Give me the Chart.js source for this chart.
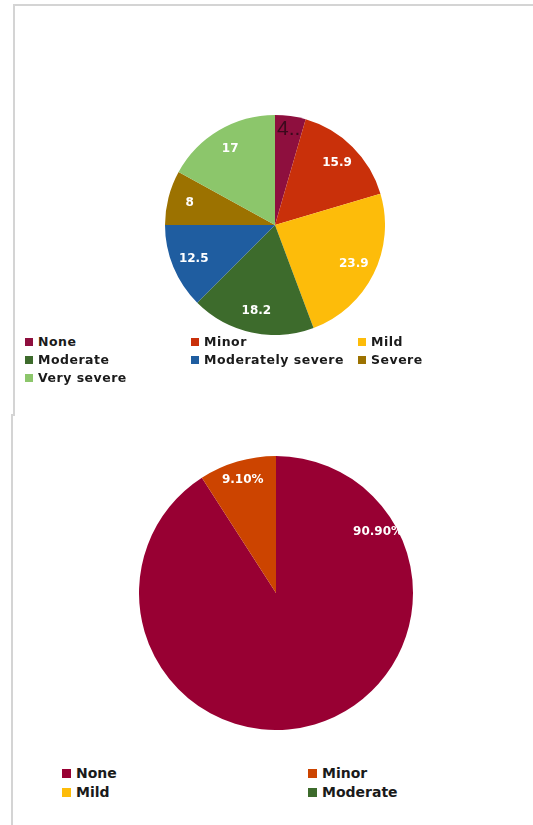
<!DOCTYPE html>
<html>
<head>
<meta charset="utf-8">
<script src="https://cdn.jsdelivr.net/npm/chart.js@4"></script>
<style>
    body { margin: 0; width: 533px; height: 825px; background: #fff; position: relative; overflow: hidden; font-family: "DejaVu Sans", Arial, sans-serif; }
    .marco1 { position: absolute; left: 13px; top: 4px; width: 530px; height: 410px; border-top: 2px solid #d4d4d4; border-left: 2px solid #d4d4d4; }
    .marco2 { position: absolute; left: 11px; top: 414px; width: 2px; height: 411px; background: #d4d4d4; }
    .lienzo { position: absolute; }
    .leyenda { position: absolute; font-weight: bold; color: #1a1a1a; }
    .item { position: absolute; white-space: nowrap; }
    .item span.cuadro { display: inline-block; vertical-align: middle; margin-right: 5px; position: relative; top: -1px; }
</style>
</head>
<body>
<div class="marco1"></div>
<div class="marco2"></div>
<div class="lienzo" style="left:165px; top:115px; width:220px; height:220px;"><canvas id="graficoSeveridad"></canvas></div>
<div class="leyenda" id="leyenda1" style="left:0; top:0;"></div>
<div class="lienzo" style="left:139px; top:456px; width:274px; height:274px;"><canvas id="graficoPorcentaje"></canvas></div>
<div class="leyenda" id="leyenda2" style="left:0; top:0;"></div>

<script>
    // Datos del primer gráfico
    const categorias = ["None", "Minor", "Mild", "Moderate", "Moderately severe", "Severe", "Very severe"];
    const valores = [4.5, 15.9, 23.9, 18.2, 12.5, 8, 17];
    const etiquetas = ["4..", "15.9", "23.9", "18.2", "12.5", "8", "17"];
    const colores = ["#8e0f3e", "#c9300a", "#fdbc0a", "#3d6b2c", "#1f5da0", "#9c7200", "#8cc66b"];

    // Datos del segundo gráfico
    const categorias2 = ["None", "Minor", "Mild", "Moderate"];
    const valores2 = [90.9, 9.1, 0, 0];
    const etiquetas2 = ["90.90%", "9.10%", "", ""];
    const colores2 = ["#980033", "#cc4400", "#fdbc0a", "#3d6b2c"];

    // Etiquetas dentro de cada porción
    function pluginEtiquetas(textos, factor, fuente, especiales) {
        return {
            id: "etiquetas",
            afterDatasetsDraw(chart) {
                const ctx = chart.ctx;
                chart.getDatasetMeta(0).data.forEach((arco, i) => {
                    if (!textos[i]) return;
                    const p = arco.getProps(["x", "y", "startAngle", "endAngle", "outerRadius"], true);
                    const esp = (especiales && especiales[i]) || {};
                    const t = esp.pos !== undefined ? esp.pos : 0.5;
                    const ang = p.startAngle + (p.endAngle - p.startAngle) * t;
                    const r = p.outerRadius * (esp.factor || factor);
                    ctx.save();
                    ctx.font = esp.fuente || fuente;
                    ctx.fillStyle = esp.color || "#fff";
                    ctx.textAlign = "center";
                    ctx.textBaseline = "middle";
                    ctx.fillText(textos[i], p.x + Math.cos(ang) * r, p.y + Math.sin(ang) * r);
                    ctx.restore();
                });
            }
        };
    }

    function opcionesPie() {
        return {
            responsive: true,
            maintainAspectRatio: true,
            animation: false,
            layout: { padding: 0 },
            plugins: { legend: { display: false }, tooltip: { enabled: false } }
        };
    }

    new Chart(document.getElementById("graficoSeveridad"), {
        type: "pie",
        data: {
            labels: categorias,
            datasets: [{ data: valores, backgroundColor: colores, borderWidth: 0 }]
        },
        options: opcionesPie(),
        plugins: [pluginEtiquetas(etiquetas, 0.8, "bold 12px 'DejaVu Sans', Arial",
            { 0: { factor: 0.88, fuente: "21px 'Liberation Sans', Arial", color: "#3a0a1c" } })]
    });

    new Chart(document.getElementById("graficoPorcentaje"), {
        type: "pie",
        data: {
            labels: categorias2,
            datasets: [{ data: valores2, backgroundColor: colores2, borderWidth: 0 }]
        },
        options: opcionesPie(),
        plugins: [pluginEtiquetas(etiquetas2, 0.86, "bold 12px 'DejaVu Sans', Arial",
            { 0: { pos: 0.18, factor: 0.87 } })]
    });

    // Leyendas en columnas
    function armarLeyenda(id, nombres, paleta, cols, xs, ys, tam, cuadro, espacio) {
        const cont = document.getElementById(id);
        nombres.forEach((n, i) => {
            const div = document.createElement("div");
            div.className = "item";
            div.style.left = xs[i % cols] + "px";
            div.style.top = ys[Math.floor(i / cols)] + "px";
            div.style.fontSize = tam + "px";
            div.style.lineHeight = "16px";
            div.style.letterSpacing = espacio + "px";
            div.innerHTML = `<span class="cuadro" style="width:${cuadro}px;height:${cuadro}px;background:${paleta[i]}"></span>${n}`;
            cont.appendChild(div);
        });
    }

    armarLeyenda("leyenda1", categorias, colores, 3, [25, 191, 358], [334, 352, 370], 12.5, 8, 0.5);
    armarLeyenda("leyenda2", categorias2, colores2, 2, [62, 308], [765, 784], 14, 9, 0);
</script>
</body>
</html>
